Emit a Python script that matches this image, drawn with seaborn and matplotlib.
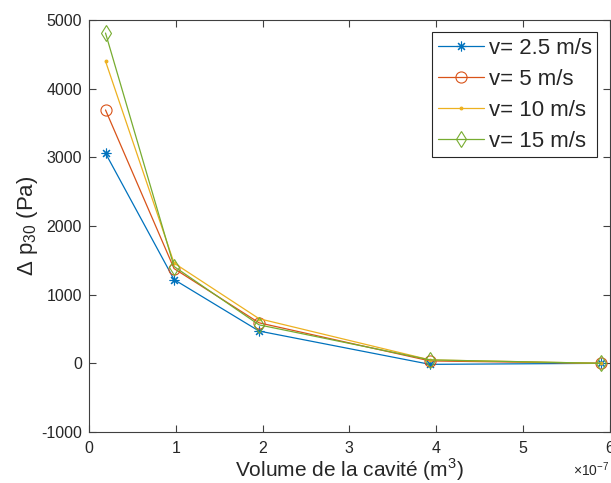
import matplotlib
matplotlib.use("Agg")
import matplotlib.pyplot as plt
import seaborn as sns
from matplotlib.ticker import ScalarFormatter

# cavity volume (m^3) and pressure drop (Pa) per inlet speed
volume = [0.19e-7, 0.98e-7, 1.96e-7, 3.93e-7, 5.90e-7]
dp_2_5 = [3060, 1220, 470, -15, 0]
dp_5 = [3690, 1380, 590, 35, 0]
dp_10 = [4400, 1460, 650, 50, 0]
dp_15 = [4810, 1410, 560, 50, 0]

labels = ["v= 2.5 m/s", "v= 5 m/s", "v= 10 m/s", "v= 15 m/s"]
colors = ["#0072BD", "#D95319", "#EDB120", "#77AC30"]
markers = [(8, 2, 0), "o", ".", "d"]
msizes = [7, 8, 4, 8]

sns.set_style("ticks")
plt.rcParams["font.family"] = ["Liberation Sans", "DejaVu Sans"]
plt.rcParams["mathtext.fontset"] = "custom"
plt.rcParams["mathtext.rm"] = "Liberation Sans"
plt.rcParams["axes.unicode_minus"] = False

fig = plt.figure(figsize=(6.11, 4.83), dpi=100)
ax = fig.add_axes([0.1457, 0.1056, 0.852, 0.853])

series = [dp_2_5, dp_5, dp_10, dp_15]
for vals, lab, c, m, ms in zip(series, labels, colors, markers, msizes):
    sns.lineplot(x=volume, y=vals, ax=ax, color=c, marker=m, markersize=ms,
                 mfc="none" if m != "." else c, mec=c, mew=0.8,
                 linewidth=0.9, label=lab)

ax.set_xlim(0, 6e-7)
ax.set_ylim(-1000, 5000)
ax.set_xticks([i * 1e-7 for i in range(7)])
ax.set_yticks(range(-1000, 5001, 1000))
fmt = ScalarFormatter(useMathText=True)
fmt.set_powerlimits((-3, 3))
ax.xaxis.set_major_formatter(fmt)
ax.xaxis.get_offset_text().set_fontsize(10)
ax.xaxis.get_offset_text().set_color("#404040")

for sp in ax.spines.values():
    sp.set_visible(True)
    sp.set_color("#404040")
    sp.set_linewidth(0.8)
ax.tick_params(direction="in", top=True, right=True, labelsize=11.5,
               colors="#404040", labelcolor="#262626", length=5, width=0.8)
ax.tick_params(axis="x", pad=6)
ax.tick_params(axis="y", pad=5)

ax.set_xlabel("Volume de la cavité (m$^\\mathregular{3}$)", fontsize=15, color="#262626", labelpad=0)
ax.set_ylabel("Δ p$_\\mathregular{30}$ (Pa)", fontsize=16, color="#262626", labelpad=1)

leg = ax.legend(loc="upper right", fontsize=16, fancybox=False, framealpha=1,
                edgecolor="#262626", handlelength=2.1, borderpad=0.25,
                labelspacing=0.45, handletextpad=0.2, borderaxespad=0.55)
leg.get_frame().set_linewidth(0.8)

fig.savefig("out.png", dpi=100)
